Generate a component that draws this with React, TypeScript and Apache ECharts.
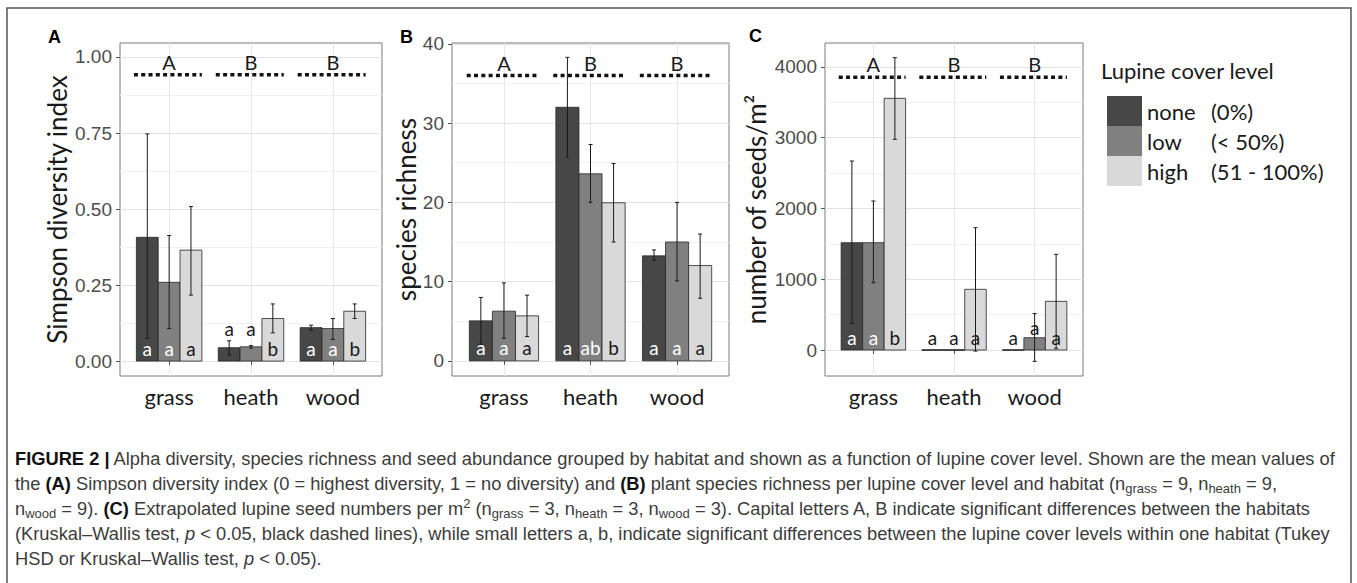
import React, { useEffect, useRef } from 'react';
import * as echarts from 'echarts';

const habitats = ['grass', 'heath', 'wood'];
const levels = ['none', 'low', 'high'];
const levelRanges = ['(0%)', '(< 50%)', '(51 - 100%)'];
const levelColors = ['#474747', '#808080', '#d9d9d9'];
const habitatGroups = ['A', 'B', 'B'];

// [mean, lower, upper] per habitat (grass, heath, wood)
const simpsonNone = [[0.407, 0.075, 0.747], [0.044, 0.02, 0.067], [0.11, 0.102, 0.118]];
const simpsonLow = [[0.259, 0.107, 0.413], [0.047, 0.043, 0.051], [0.107, 0.071, 0.14]];
const simpsonHigh = [[0.365, 0.217, 0.508], [0.14, 0.093, 0.188], [0.164, 0.14, 0.188]];
const simpsonLetters = [['a', 'a', 'a'], ['a', 'a', 'b'], ['a', 'a', 'b']];
const simpsonLetterAt = [[null, null, null], [0.108, 0.108, null], [null, null, null]];
const simpsonGroupLine = 0.942;
const simpsonRange = [-0.049, 1.046];
const simpsonTicks = [0, 0.25, 0.5, 0.75, 1];
const simpsonMinor = [0.125, 0.375, 0.625, 0.875];

const richnessNone = [[5.05, 2.1, 8.0], [32.0, 25.7, 38.3], [13.25, 12.7, 14.0]];
const richnessLow = [[6.27, 2.86, 9.84], [23.6, 20.0, 27.3], [15.0, 10.1, 20.0]];
const richnessHigh = [[5.68, 3.07, 8.29], [19.95, 15.0, 24.9], [12.03, 7.9, 16.0]];
const richnessLetters = [['a', 'a', 'a'], ['a', 'ab', 'b'], ['a', 'a', 'a']];
const richnessLetterAt = [[null, null, null], [null, null, null], [null, null, null]];
const richnessGroupLine = 36.0;
const richnessRange = [-1.91, 40.11];
const richnessTicks = [0, 10, 20, 30, 40];
const richnessMinor = [5, 15, 25, 35];

const seedsNone = [[1517, 377, 2671], [0, 0, 0], [0, 0, 0]];
const seedsLow = [[1517, 951, 2106], [0, 0, 0], [174, -160, 515]];
const seedsHigh = [[3557, 2978, 4132], [858, -15, 1729], [688, 24, 1352]];
const seedsLetters = [['a', 'a', 'b'], ['a', 'a', 'a'], ['a', 'a', 'a']];
const seedsLetterAt = [[null, null, null], [null, null, null], [null, 315, null]];
const seedsGroupLine = 3854;
const seedsRange = [-367, 4339];
const seedsTicks = [0, 1000, 2000, 3000, 4000];
const seedsMinor = [500, 1500, 2500, 3500];

const panels = [
  { tag: 'A', title: 'Simpson diversity index', series: [simpsonNone, simpsonLow, simpsonHigh], letters: simpsonLetters, letterAt: simpsonLetterAt, groupLine: simpsonGroupLine, range: simpsonRange, ticks: simpsonTicks, minor: simpsonMinor, fmt: (v: number) => v.toFixed(2) },
  { tag: 'B', title: 'species richness', series: [richnessNone, richnessLow, richnessHigh], letters: richnessLetters, letterAt: richnessLetterAt, groupLine: richnessGroupLine, range: richnessRange, ticks: richnessTicks, minor: richnessMinor, fmt: (v: number) => String(Math.round(v)) },
  { tag: 'C', title: 'number of seeds/m²', series: [seedsNone, seedsLow, seedsHigh], letters: seedsLetters, letterAt: seedsLetterAt, groupLine: seedsGroupLine, range: seedsRange, ticks: seedsTicks, minor: seedsMinor, fmt: (v: number) => String(Math.round(v)) },
];

const layout = [
  { grid: { left: 120, top: 43, width: 262, height: 333 }, nameGap: 50, tagPos: [48, 28] },
  { grid: { left: 452, top: 43, width: 277, height: 333 }, nameGap: 33, tagPos: [400, 28] },
  { grid: { left: 825, top: 43, width: 258, height: 333 }, nameGap: 56, tagPos: [749, 27] },
];

const captionLines = [
  '{b|FIGURE 2 |} Alpha diversity, species richness and seed abundance grouped by habitat and shown as a function of lupine cover level. Shown are the mean values of',
  'the {b|(A)} Simpson diversity index (0 = highest diversity, 1 = no diversity) and {b|(B)} plant species richness per lupine cover level and habitat (n{s|grass} = 9, n{s|heath} = 9,',
  'n{s|wood} = 9). {b|(C)} Extrapolated lupine seed numbers per m{u|2} (n{s|grass} = 3, n{s|heath} = 3, n{s|wood} = 3). Capital letters A, B indicate significant differences between the habitats',
  '(Kruskal–Wallis test, {i|p} < 0.05, black dashed lines), while small letters a, b, indicate significant differences between the lupine cover levels within one habitat (Tukey',
  'HSD or Kruskal–Wallis test, {i|p} < 0.05).',
];

const BAR_W = 0.8 / 3;
const CHART_FONT = 'Lato, "Open Sans", sans-serif';

function buildOption() {
  const grid = layout.map((l) => ({ ...l.grid, show: true, borderColor: '#7a7a7a', borderWidth: 1, backgroundColor: 'transparent' }));
  const xAxis = panels.map((p, i) => ({
    type: 'value', gridIndex: i, min: 0.4, max: 3.6,
    axisLine: { show: false },
    axisTick: { show: true, length: 4, customValues: [1, 2, 3], lineStyle: { color: '#555' } },
    axisLabel: { customValues: [1, 2, 3], formatter: (v: number) => habitats[Math.round(v) - 1], fontFamily: CHART_FONT, fontSize: 22, color: '#1a1a1a', margin: 9 },
    splitLine: { show: true, lineStyle: { color: '#e6e6e6', width: 1 } },
  }));
  const yAxis: any[] = [];
  panels.forEach((p, i) => {
    yAxis.push({
      type: 'value', gridIndex: i, min: p.range[0], max: p.range[1],
      axisLine: { show: false },
      axisTick: { show: true, length: 4, customValues: p.ticks, lineStyle: { color: '#555' } },
      axisLabel: { customValues: p.ticks, formatter: p.fmt, fontFamily: '"Liberation Sans", Arial, sans-serif', fontSize: 19, color: '#4d4d4d', margin: 8 },
      splitLine: { show: true, lineStyle: { color: '#e3e3e3', width: 1 } },
      name: p.title, nameLocation: 'middle', nameRotate: 90, nameGap: layout[i].nameGap,
      nameTextStyle: { fontFamily: CHART_FONT, fontSize: 26, color: '#1a1a1a' },
    });
    yAxis.push({
      type: 'value', gridIndex: i, min: p.range[0], max: p.range[1],
      axisLine: { show: false },
      axisTick: { show: false, customValues: p.minor },
      axisLabel: { show: false, customValues: p.minor },
      splitLine: { show: true, lineStyle: { color: '#f1f1f1', width: 1 } },
    });
  });

  const series: any[] = [];
  panels.forEach((p, i) => {
    p.series.forEach((vals, l) => {
      series.push({
        type: 'custom', name: levels[l], xAxisIndex: i, yAxisIndex: 2 * i, clip: false,
        itemStyle: { color: levelColors[l] },
        data: vals.map((d, h) => [h + 1, d[0], d[1], d[2]]),
        renderItem: (params: any, api: any) => {
          const cx = api.value(0) + (l - 1) * BAR_W;
          const mean = api.value(1), lo = api.value(2), hi = api.value(3);
          const bl = api.coord([cx - BAR_W / 2, 0]);
          const tr = api.coord([cx + BAR_W / 2, mean]);
          const children: any[] = [];
          children.push({
            type: 'rect',
            shape: { x: bl[0], y: Math.min(tr[1], bl[1]), width: tr[0] - bl[0], height: Math.abs(bl[1] - tr[1]) },
            style: { fill: levelColors[l], stroke: '#262626', lineWidth: 0.8 },
          });
          if (mean === 0) {
            children.push({ type: 'line', shape: { x1: bl[0], y1: bl[1], x2: tr[0], y2: bl[1] }, style: { stroke: '#262626', lineWidth: 1 } });
          }
          if (hi > lo) {
            const t = api.coord([cx, hi]);
            const b = api.coord([cx, lo]);
            const st = { stroke: '#1a1a1a', lineWidth: 1 };
            children.push({ type: 'line', shape: { x1: t[0], y1: t[1], x2: b[0], y2: b[1] }, style: st });
            children.push({ type: 'line', shape: { x1: t[0] - 2, y1: t[1], x2: t[0] + 2, y2: t[1] }, style: st });
            children.push({ type: 'line', shape: { x1: b[0] - 2, y1: b[1], x2: b[0] + 2, y2: b[1] }, style: st });
          }
          return { type: 'group', children };
        },
      });
    });
    // small letters
    const letterData: number[][] = [];
    p.letters.forEach((row, h) => row.forEach((_, l) => letterData.push([h + 1, l])));
    series.push({
      type: 'custom', name: 'letters' + p.tag, xAxisIndex: i, yAxisIndex: 2 * i, clip: false, silent: true,
      data: letterData,
      renderItem: (params: any, api: any) => {
        const h = Math.floor(params.dataIndex / 3);
        const l = params.dataIndex % 3;
        const cx = h + 1 + (l - 1) * BAR_W;
        const at = p.letterAt[h][l];
        const mean = p.series[l][h][0];
        const base = api.coord([cx, 0]);
        const y = at == null ? base[1] - 13 : api.coord([cx, at])[1];
        const top = api.coord([cx, mean])[1];
        const inside = l < 2 && y > top + 4;
        return {
          type: 'text', x: base[0], y,
          style: { text: p.letters[h][l], fill: inside ? '#ffffff' : '#1a1a1a', fontFamily: CHART_FONT, fontSize: 19, align: 'center', verticalAlign: 'middle' },
        };
      },
    });
    // habitat significance lines
    series.push({
      type: 'custom', name: 'groups' + p.tag, xAxisIndex: i, yAxisIndex: 2 * i, clip: false, silent: true,
      data: habitatGroups.map((_, h) => [h + 1, p.groupLine]),
      renderItem: (params: any, api: any) => {
        const x = api.value(0), v = api.value(1);
        const a = api.coord([x - 0.43, v]);
        const b = api.coord([x + 0.4, v]);
        const c = api.coord([x, v]);
        return {
          type: 'group', children: [
            { type: 'line', shape: { x1: a[0], y1: a[1], x2: b[0], y2: b[1] }, style: { stroke: '#111', lineWidth: 3.5, lineDash: [4, 3.3] } },
            { type: 'text', x: c[0], y: c[1] - 13, style: { text: habitatGroups[params.dataIndex], fill: '#1a1a1a', fontFamily: CHART_FONT, fontSize: 20, align: 'center', verticalAlign: 'middle' } },
          ],
        };
      },
    });
  });

  const graphic: any[] = [
    { type: 'rect', shape: { x: 7, y: 8, width: 1344, height: 620 }, style: { fill: 'none', stroke: '#555', lineWidth: 1.5 }, silent: true },
    { type: 'text', left: 1101, top: 59, style: { text: 'Lupine cover level', fill: '#1a1a1a', fontFamily: CHART_FONT, fontSize: 22 } },
  ];
  panels.forEach((p, i) => {
    graphic.push({ type: 'text', left: layout[i].tagPos[0], top: layout[i].tagPos[1], style: { text: p.tag, fill: '#000', fontFamily: '"Liberation Sans", Arial, sans-serif', fontWeight: 'bold', fontSize: 18 } });
  });
  const capFont = '"Liberation Sans", Arial, sans-serif';
  const capSize = 18.3;
  captionLines.forEach((line, k) => {
    graphic.push({
      type: 'text', x: 15, y: 458 + k * 25,
      style: {
        text: line, fill: '#3c3c3c', fontFamily: capFont, fontSize: capSize, verticalAlign: 'middle', lineHeight: 23,
        rich: {
          b: { fontWeight: 'bold', fill: '#111', fontFamily: capFont, fontSize: capSize, lineHeight: 23 },
          i: { fontStyle: 'italic', fill: '#3c3c3c', fontFamily: capFont, fontSize: capSize, lineHeight: 23 },
          s: { fontSize: 13, lineHeight: 13, verticalAlign: 'bottom', fill: '#3c3c3c', fontFamily: capFont },
          u: { fontSize: 13, lineHeight: 13, verticalAlign: 'top', fill: '#3c3c3c', fontFamily: capFont },
        },
      },
    });
  });

  return {
    animation: false,
    backgroundColor: '#ffffff',
    grid, xAxis, yAxis, series, graphic,
    legend: {
      data: levels, orient: 'vertical', left: 1102, top: 91, itemWidth: 35, itemHeight: 30, itemGap: 0, icon: 'rect', selectedMode: false,
      itemStyle: { borderWidth: 0 },
      textStyle: {
        fontFamily: CHART_FONT, fontSize: 22, color: '#1a1a1a', lineHeight: 30,
        rich: {
          n: { width: 64, fontFamily: CHART_FONT, fontSize: 22, color: '#1a1a1a' },
          r: { fontFamily: CHART_FONT, fontSize: 22, color: '#1a1a1a' },
        },
      },
      formatter: (name: string) => `{n|${name}}{r|${levelRanges[levels.indexOf(name)]}}`,
    },
  };
}

export default function App() {
  const ref = useRef<HTMLDivElement>(null);
  useEffect(() => {
    const chart = echarts.init(ref.current!, null, { renderer: 'svg' });
    chart.setOption(buildOption() as any);
    return () => chart.dispose();
  }, []);
  return <div ref={ref} style={{ position: 'absolute', left: 0, top: 0, width: 1357, height: 583, background: '#fff' }} />;
}
